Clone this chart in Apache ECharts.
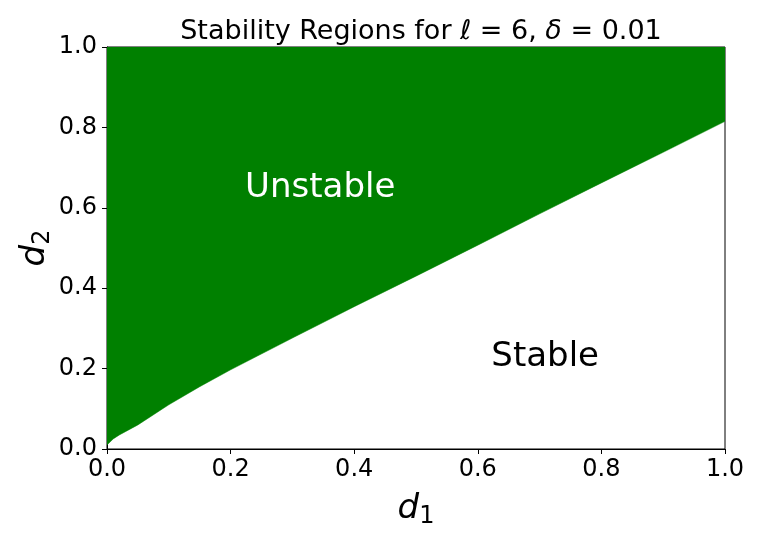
<!DOCTYPE html>
<html>
<head>
<meta charset="utf-8">
<script src="https://cdn.jsdelivr.net/npm/echarts@6/dist/echarts.min.js"></script>
<style>
  html, body { margin: 0; padding: 0; background: #fff; }
  #chart { width: 760px; height: 540px; }
</style>
</head>
<body>
<div id="chart"></div>
<script>
// boundary between stable (below) and unstable (above)
const d1Values = [0, 0.01, 0.02, 0.05, 0.1, 0.15, 0.2, 0.3, 0.4, 0.5, 0.6, 0.7, 0.8, 0.9, 1.0]
const d2Boundary = [0.01, 0.025, 0.035, 0.06, 0.11, 0.155, 0.197, 0.276, 0.354, 0.43, 0.507, 0.585, 0.662, 0.738, 0.815]
const tickValues = [0, 0.2, 0.4, 0.6, 0.8, 1.0]
const regionLabels = [
  { name: 'Unstable', at: [0.345, 0.65], color: '#ffffff' },
  { name: 'Stable', at: [0.709, 0.229], color: '#000000' }
]

const font = 'DejaVu Sans'
const chart = echarts.init(document.getElementById('chart'))

const axisCommon = {
  type: 'value',
  min: tickValues[0],
  max: tickValues[tickValues.length - 1],
  interval: 0.2,
  axisLine: { show: true, onZero: false, lineStyle: { color: '#000', width: 1 } },
  axisTick: { show: true, length: 5, lineStyle: { color: '#000' } },
  splitLine: { show: false },
  axisLabel: {
    color: '#000',
    fontFamily: font,
    fontSize: 24,
    formatter: v => v.toFixed(1)
  }
}

const nameRich = {
  i: { fontFamily: font, fontSize: 34, fontStyle: 'italic', color: '#000' },
  s: { fontFamily: font, fontSize: 24, color: '#000', verticalAlign: 'bottom', padding: [16, 0, 0, 0] }
}

chart.setOption({
  backgroundColor: '#fff',
  animation: false,
  title: {
    text: '{n|Stability Regions for }{i|ℓ}{n| = 6, }{i|δ}{n| = 0.01}',
    left: 416,
    top: 13,
    textAlign: 'center',
    textStyle: {
      fontWeight: 'normal',
      fontSize: 27,
      rich: {
        n: { fontFamily: font, fontSize: 27, fontWeight: 'normal', color: '#000' },
        i: { fontFamily: font, fontSize: 27, fontWeight: 'normal', color: '#000', fontStyle: 'italic' }
      }
    }
  },
  grid: {
    left: 107, right: 35, top: 47, bottom: 91,
    containLabel: false,
    outerBoundsMode: 'none',
    show: true, borderColor: '#000', borderWidth: 1, backgroundColor: 'transparent'
  },
  xAxis: Object.assign({}, axisCommon, {
    axisLabel: Object.assign({}, axisCommon.axisLabel, { margin: 9 }),
    name: '{i|d}{s|1}',
    nameLocation: 'middle',
    nameGap: 40,
    nameTextStyle: { rich: nameRich }
  }),
  yAxis: Object.assign({}, axisCommon, {
    axisLabel: Object.assign({}, axisCommon.axisLabel, { margin: 10 }),
    name: '{i|d}{s|2}',
    nameLocation: 'middle',
    nameGap: 52,
    nameMoveOverlap: false,
    nameRotate: 90,
    nameTextStyle: { rich: nameRich }
  }),
  series: [
    {
      type: 'line',
      data: d1Values.map((x, i) => [x, d2Boundary[i]]),
      showSymbol: false,
      symbol: 'none',
      lineStyle: { width: 0.5, color: '#008000' },
      areaStyle: { color: '#008000', opacity: 1, origin: 'end' },
      z: 1
    },
    {
      type: 'scatter',
      symbolSize: 0,
      itemStyle: { opacity: 1 },
      data: regionLabels.map(r => ({
        value: r.at,
        label: {
          show: true,
          position: 'inside',
          formatter: r.name,
          fontFamily: font,
          fontSize: 34,
          color: r.color
        }
      })),
      z: 5
    }
  ]
})
</script>
</body>
</html>
